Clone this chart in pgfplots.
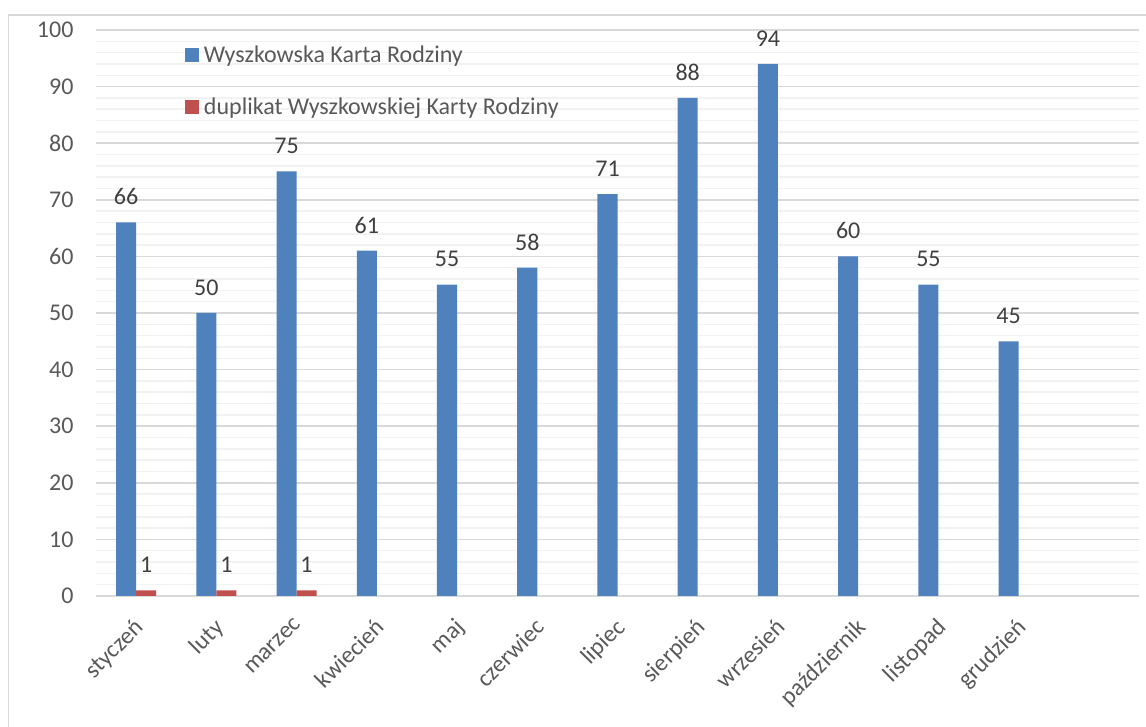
\documentclass[border=0pt]{standalone}
\usepackage{pgfplots}
\pgfplotsset{compat=1.18}
\usepackage{fontspec}
\setmainfont{Carlito}
\definecolor{cblue}{HTML}{4F81BD}
\definecolor{cred}{HTML}{C0504D}
\definecolor{txt}{HTML}{595959}
\definecolor{lbl}{HTML}{404040}
\definecolor{majg}{HTML}{D9D9D9}
\definecolor{ming}{HTML}{F2F2F2}
\newcommand{\fs}{\fontsize{24}{28}\selectfont}
\begin{document}
\begin{tikzpicture}[x=1pt,y=1pt]
\useasboundingbox (0,0) rectangle (1146,727);
\draw[majg, line width=1.5pt] (8.5,0) -- (8.5,712) -- (1146,712);
\begin{axis}[
  at={(96pt,131pt)}, anchor=south west,
  width=1043pt, height=566pt, scale only axis,
  xmin=-0.5, xmax=12.5, ymin=0, ymax=100,
  axis line style={draw=none},
  tick style={draw=none},
  /pgf/number format/assume math mode=true,
  xtick={0,...,11},
  xticklabels={styczeń,luty,marzec,kwiecień,maj,czerwiec,lipiec,sierpień,wrzesień,październik,listopad,grudzień},
  xticklabel style={xshift=-3pt, yshift=-18pt, rotate=45, anchor=north east, font=\fs, text=txt, inner sep=2pt},
  ytick={0,10,...,100},
  minor y tick num=4,
  yticklabel style={font=\fs, text=txt, xshift=-19pt},
  ymajorgrids, yminorgrids,
  major grid style={majg, line width=1.5pt},
  minor grid style={ming, line width=1.5pt},
  nodes near coords style={font=\fs, text=lbl, anchor=south, yshift=14pt},
  legend style={at={(0.0853,0.975)}, anchor=north west, draw=none, fill=none,
     inner sep=0pt, outer sep=0pt, row sep=30pt, font=\fs, text=txt,
     cells={anchor=west}},
]
\addplot[ybar, bar width=0.25, bar shift=-0.125, fill=cblue, draw=none, nodes near coords,
  every node near coord/.append style={xshift=-10pt},
  legend image code/.code={\fill[cblue] (0pt,-7pt) rectangle (14pt,7pt); \path (17pt,0pt);}]
  coordinates {(0,66) (1,50) (2,75) (3,61) (4,55) (5,58) (6,71) (7,88) (8,94) (9,60) (10,55) (11,45)};
\addlegendentry{Wyszkowska Karta Rodziny}
\addplot[ybar, bar width=0.25, bar shift=0.125, fill=cred, draw=none, nodes near coords,
  every node near coord/.append style={xshift=10pt},
  legend image code/.code={\fill[cred] (0pt,-7pt) rectangle (14pt,7pt); \path (17pt,0pt);}]
  coordinates {(0,1) (1,1) (2,1)};
\addlegendentry{duplikat Wyszkowskiej Karty Rodziny}
\end{axis}
\end{tikzpicture}
\end{document}
